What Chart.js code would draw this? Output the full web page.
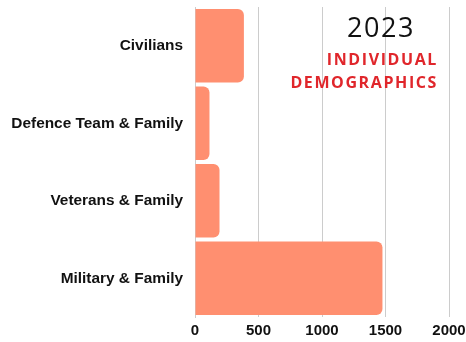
<!DOCTYPE html>
<html>
<head>
<meta charset="utf-8">
<script src="https://cdn.jsdelivr.net/npm/chart.js@4"></script>
<style>
  html, body { margin: 0; padding: 0; background: #fff; }
  #wrap { position: relative; width: 466px; height: 342px; }
  #year { position: absolute; left: 309px; top: 8px; width: 144px; text-align: center;
          font-family: "Open Sans", sans-serif; font-size: 27px; color: #111; letter-spacing: 1.5px; }
  #sub { position: absolute; right: 28px; top: 48px; text-align: right; font-family: "Open Sans", sans-serif;
         font-weight: 700; font-size: 16px; line-height: 23px; color: #e0262b; letter-spacing: 1.6px; }
</style>
</head>
<body>
<div id="wrap">
  <canvas id="myChart" width="466" height="342"></canvas>
  <div id="year">2023</div>
  <div id="sub">INDIVIDUAL<br>DEMOGRAPHICS</div>
</div>
<script>
var categories = ["Civilians", "Defence Team & Family", "Veterans & Family", "Military & Family"];
var individuals = [385, 114, 193, 1476];
var xTicks = [0, 500, 1000, 1500, 2000];

var context = document.getElementById('myChart');
var myBarChart = new Chart(context, {
    type: 'bar',
    data: {
        labels: categories,
        datasets: [{
            label: "Individuals",
            data: individuals,
            backgroundColor: "rgb(255,143,112)",
            borderRadius: { topRight: 6, bottomRight: 6 },
            borderSkipped: false,
            barPercentage: 0.95,
            categoryPercentage: 1.0
        }]
    },
    options: {
        indexAxis: 'y',
        responsive: false,
        animation: false,
        layout: { padding: { top: 7, right: 0, left: 0, bottom: 0 } },
        plugins: { legend: { display: false }, title: { display: false }, tooltip: { enabled: false } },
        scales: {
            x: {
                min: 0, max: 2000,
                afterBuildTicks: function(axis){ axis.ticks = xTicks.map(function(v){ return { value: v }; }); },
                grid: { color: "#cccccc", drawTicks: false, lineWidth: 1 },
                border: { display: false },
                ticks: {
                    color: "#111", padding: 5,
                    font: { family: "Liberation Sans", size: 15, weight: 'bold' },
                    callback: function(v){ return String(v); }
                },
                afterFit: function(scale){ scale.height = 25; scale.paddingLeft = 0; scale.paddingRight = 17; }
            },
            y: {
                grid: { display: false, drawTicks: false },
                border: { display: true, color: "#cccccc" },
                ticks: { color: "#111", padding: 12, font: { family: "Liberation Sans", size: 15.4, weight: 'bold' } },
                afterFit: function(scale){ scale.width = 195; scale.paddingTop = 0; scale.paddingBottom = 0; }
            }
        }
    }
});
</script>
</body>
</html>
